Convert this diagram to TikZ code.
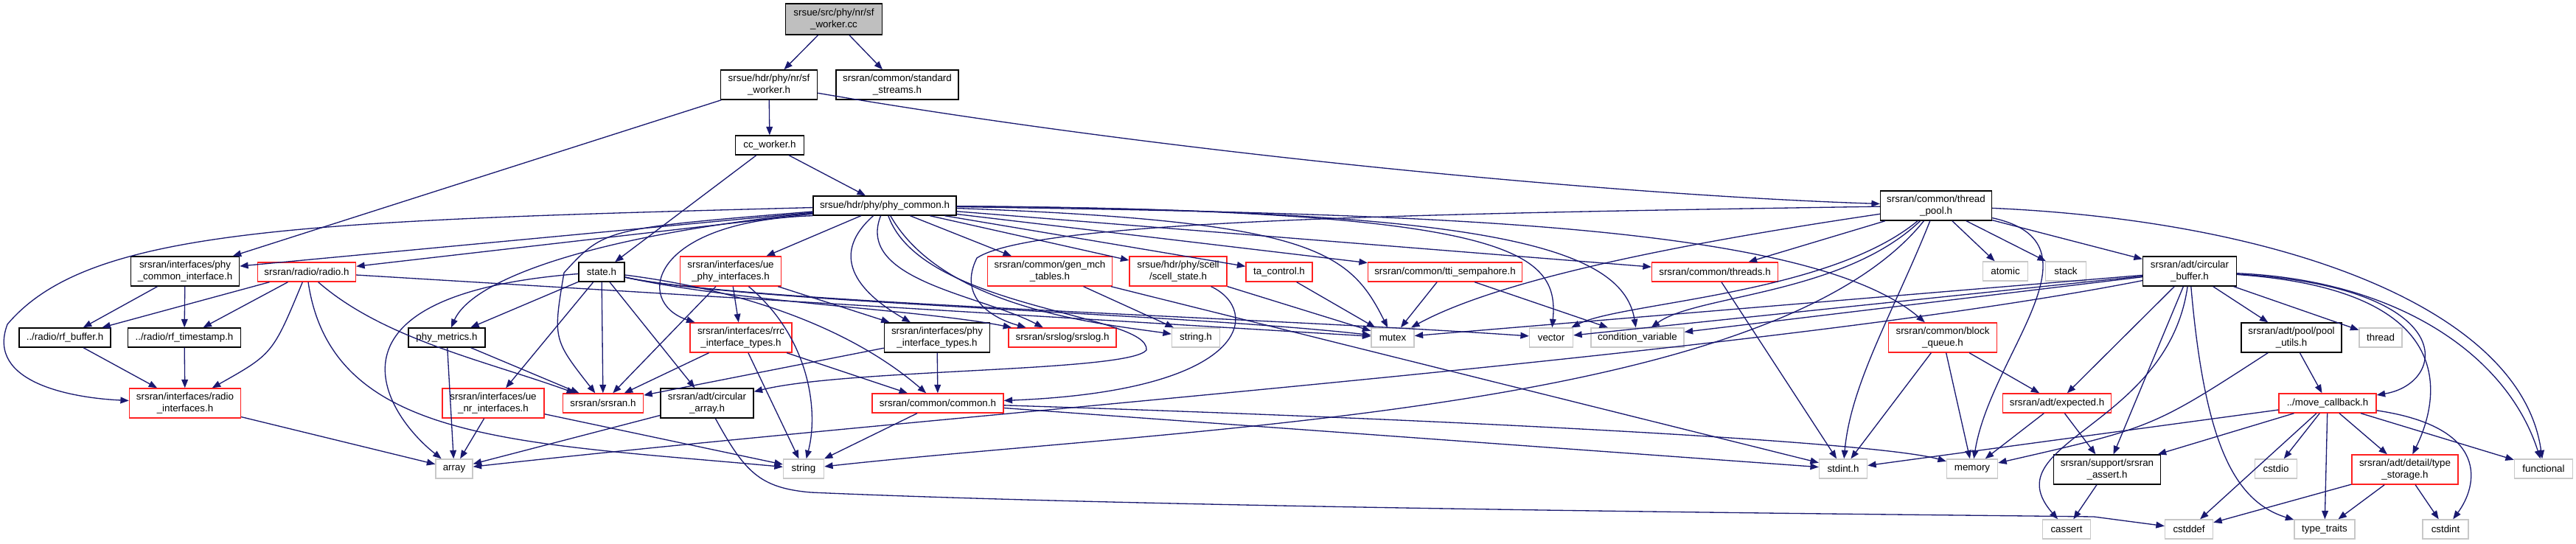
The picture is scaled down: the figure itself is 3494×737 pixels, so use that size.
\documentclass[tikz,border=0pt]{standalone}
\usepackage{fontspec}
\setmainfont{Liberation Sans}
\usepackage{tikz}
\usetikzlibrary{arrows.meta}
\definecolor{edgeblue}{HTML}{191970}
\definecolor{boxred}{HTML}{FF2020}
\definecolor{boxgray}{HTML}{C8C8C8}
\definecolor{rootgray}{HTML}{BFBFBF}
\tikzset{
  filebox/.style={draw=black, fill=white, shape=rectangle, line width=0.8pt, inner sep=1.5pt,
    align=center, font=\fontsize{7.6}{8.6}\selectfont, minimum height=0.52cm},
  twoline/.style={minimum height=0.8cm},
  redbox/.style={filebox, draw=boxred},
  sysbox/.style={filebox, draw=boxgray},
  rootbox/.style={filebox, fill=rootgray, minimum height=0.84cm},
  incl/.style={draw=edgeblue, line width=0.75pt, -{Triangle[length=6.5pt,width=5pt]}},
}

\begin{document}
\begin{tikzpicture}[x=0.02cm,y=-0.02cm]
\useasboundingbox (0,0) rectangle (3494,737);

% top of the graph
\draw node (root) at (1131,26) [rootbox, minimum width=2.62cm]{srsue/src/phy/nr/sf\\\_worker.cc};
\draw node (sfw) at (1043,115) [filebox, twoline, minimum width=2.62cm]{srsue/hdr/phy/nr/sf\\\_worker.h};
\draw node (stdstr) at (1217,115) [filebox, twoline, minimum width=3.32cm]{srsran/common/standard\\\_streams.h};
\draw node (ccw) at (1044,197) [filebox, minimum width=1.86cm]{cc\_worker.h};
\draw node (phyc) at (1200,279) [filebox, minimum width=3.88cm]{srsue/hdr/phy/phy\_common.h};
\draw node (tpool) at (2626,279) [filebox, twoline, minimum width=3.02cm]{srsran/common/thread\\\_pool.h};

% row below phy_common
\draw node (pci) at (251,368) [filebox, twoline, minimum width=2.94cm]{srsran/interfaces/phy\\\_common\_interface.h};
\draw node (radio) at (416,369) [redbox, minimum width=2.66cm]{srsran/radio/radio.h};
\draw node (state) at (816,369) [filebox, minimum width=1.24cm]{state.h};
\draw node (uephy) at (991,368) [redbox, twoline, minimum width=2.74cm]{srsran/interfaces/ue\\\_phy\_interfaces.h};
\draw node (genmch) at (1424,368) [redbox, twoline, minimum width=3.38cm]{srsran/common/gen\_mch\\\_tables.h};
\draw node (scell) at (1598,368) [redbox, twoline, minimum width=2.64cm]{srsue/hdr/phy/scell\\/scell\_state.h};
\draw node (tactl) at (1735,369) [redbox, minimum width=1.8cm]{ta\_control.h};
\draw node (ttisem) at (1960,369) [redbox, minimum width=4.18cm]{srsran/common/tti\_sempahore.h};
\draw node (threads) at (2326,369) [redbox, minimum width=3.42cm]{srsran/common/threads.h};
\draw node (atomic) at (2720,368) [sysbox, minimum width=1.22cm]{atomic};
\draw node (stack) at (2802,368) [sysbox, minimum width=1.1cm]{stack};
\draw node (cbuf) at (2970,368) [filebox, twoline, minimum width=2.54cm]{srsran/adt/circular\\\_buffer.h};

% middle row
\draw node (rfbuf) at (88,458) [filebox, minimum width=2.48cm]{../radio/rf\_buffer.h};
\draw node (rfts) at (250,458) [filebox, minimum width=3.06cm]{../radio/rf\_timestamp.h};
\draw node (metrics) at (606,458) [filebox, minimum width=2.08cm]{phy\_metrics.h};
\draw node (rrc) at (1005,458) [redbox, twoline, minimum width=2.76cm]{srsran/interfaces/rrc\\\_interface\_types.h};
\draw node (phyt) at (1271,458) [filebox, twoline, minimum width=2.86cm]{srsran/interfaces/phy\\\_interface\_types.h};
\draw node (srslog) at (1441,458) [redbox, minimum width=2.92cm]{srsran/srslog/srslog.h};
\draw node (stringh) at (1622,458) [sysbox, minimum width=1.3cm]{string.h};
\draw node (mutex) at (1889,458) [sysbox, minimum width=1.16cm]{mutex};
\draw node (vector) at (2104,458) [sysbox, minimum width=1.18cm]{vector};
\draw node (condvar) at (2221,458) [sysbox, minimum width=2.52cm]{condition\_variable};
\draw node (bqueue) at (2635,458) [redbox, twoline, minimum width=2.94cm]{srsran/common/block\\\_queue.h};
\draw node (pool) at (3108,458) [filebox, twoline, minimum width=2.72cm]{srsran/adt/pool/pool\\\_utils.h};
\draw node (thread) at (3229,458) [sysbox, minimum width=1.16cm]{thread};

% lower row
\draw node (radioif) at (251,547) [redbox, twoline, minimum width=3.02cm]{srsran/interfaces/radio\\\_interfaces.h};
\draw node (uenr) at (669,547) [redbox, twoline, minimum width=2.76cm]{srsran/interfaces/ue\\\_nr\_interfaces.h};
\draw node (srsranh) at (818,547) [redbox, minimum width=2.18cm]{srsran/srsran.h};
\draw node (carray) at (959,547) [filebox, twoline, minimum width=2.52cm]{srsran/adt/circular\\\_array.h};
\draw node (common) at (1272,547) [redbox, minimum width=3.56cm]{srsran/common/common.h};
\draw node (expected) at (2790,547) [redbox, minimum width=2.94cm]{srsran/adt/expected.h};
\draw node (movecb) at (3157,547) [redbox, minimum width=2.64cm]{../move\_callback.h};

\draw node (array) at (616,636) [sysbox, minimum width=1.0cm]{array};
\draw node (string) at (1090,636) [sysbox, minimum width=1.1cm]{string};
\draw node (stdint) at (2500,636) [sysbox, minimum width=1.3cm]{stdint.h};
\draw node (memory) at (2675,636) [sysbox, minimum width=1.38cm]{memory};
\draw node (assert) at (2858,637) [filebox, twoline, minimum width=2.9cm]{srsran/support/srsran\\\_assert.h};
\draw node (cstdio) at (3087,636) [sysbox, minimum width=1.14cm]{cstdio};
\draw node (tstorage) at (3262,637) [redbox, twoline, minimum width=2.88cm]{srsran/adt/detail/type\\\_storage.h};
\draw node (functional) at (3450,636) [sysbox, minimum width=1.58cm]{functional};

\draw node (cassert) at (2803,718) [sysbox, minimum width=1.3cm]{cassert};
\draw node (cstddef) at (2969,718) [sysbox, minimum width=1.3cm]{cstddef};
\draw node (traits) at (3153,718) [sysbox, minimum width=1.64cm]{type\_traits};
\draw node (cstdint) at (3317,718) [sysbox, minimum width=1.24cm]{cstdint};

% straight includes
\foreach \a/\b in {root/sfw, root/stdstr, sfw/ccw, sfw/pci, ccw/phyc, ccw/state,
  phyc/pci, phyc/radio, phyc/uephy, phyc/genmch, phyc/scell, phyc/tactl, phyc/ttisem, phyc/threads,
  pci/rfbuf, pci/rfts, radio/rfbuf, radio/rfts, radio/mutex, rfbuf/radioif, rfts/radioif, radioif/array,
  state/metrics, state/uenr, state/srsranh, state/carray, metrics/array, metrics/srsranh,
  uenr/array, uenr/string, uephy/rrc, uephy/phyt, uephy/srsranh,
  rrc/srsranh, rrc/string, rrc/common, phyt/srsranh, phyt/common, carray/array,
  common/string, common/stdint, genmch/stringh, genmch/stdint,
  scell/mutex, tactl/mutex, ttisem/mutex, ttisem/condvar, threads/stdint,
  tpool/threads, tpool/atomic, tpool/stack, tpool/cbuf,
  cbuf/mutex, cbuf/vector, cbuf/condvar, cbuf/expected, cbuf/assert, cbuf/pool, cbuf/thread,
  bqueue/stdint, bqueue/memory, bqueue/expected, expected/memory, expected/assert, pool/movecb,
  movecb/stdint, movecb/assert, movecb/cstddef, movecb/cstdio, movecb/traits, movecb/tstorage, movecb/functional,
  tstorage/cstddef, tstorage/traits, tstorage/cstdint, assert/cassert}
  \draw[incl] (\a) -- (\b);

% bent includes
\draw[incl] (sfw) .. controls (1600,210) and (2200,265) .. (tpool);
\draw[incl] (phyc) .. controls (400,300) and (120,310) .. (10,440) .. controls (-20,520) and (100,540) .. (radioif);
\draw[incl] (phyc) .. controls (800,320) and (640,380) .. (metrics);
\draw[incl] (phyc) .. controls (820,310) .. (765,370) .. controls (750,460) .. (srsranh);
\draw[incl] (phyc.south west) .. controls (880,300) and (860,410) .. (rrc);
\draw[incl] (phyc) .. controls (1120,350) and (1170,400) .. (phyt);
\draw[incl] (phyc) .. controls (1160,380) and (1330,400) .. (srslog);
\draw[incl] (phyc) .. controls (1280,420) and (1500,440) .. (stringh);
\draw[incl] (phyc) .. controls (1250,420) and (1560,425) .. (1555,475) .. controls (1530,505) and (1150,500) .. (carray);
\draw[incl] (phyc) .. controls (1780,300) and (1830,340) .. (mutex);
\draw[incl] (phyc) .. controls (2050,285) and (2115,340) .. (vector);
\draw[incl] (phyc) .. controls (2000,285) and (2200,330) .. (condvar);
\draw[incl] (phyc) .. controls (1900,290) and (2450,300) .. (bqueue);
\draw[incl] (radio) .. controls (370,480) .. (radioif);
\draw[incl] (radio) .. controls (450,600) and (700,600) .. (string);
\draw[incl] (radio) .. controls (520,460) and (660,490) .. (srsranh);
\draw[incl] (state) .. controls (420,400) and (520,560) .. (array);
\draw[incl] (state) .. controls (1000,410) and (1250,420) .. (srslog);
\draw[incl] (state) .. controls (1000,410) and (1600,425) .. (mutex);
\draw[incl] (state) .. controls (1000,410) and (1700,430) .. (vector);
\draw[incl] (state) .. controls (1020,395) and (1160,450) .. (common);
\draw[incl] (uephy) .. controls (1100,460) and (1110,560) .. (string);
\draw[incl] (scell) .. controls (1710,420) and (1700,530) .. (common);
\draw[incl] (carray) .. controls (1010,640) and (1030,662) .. (1100,668) .. controls (1600,690) and (2600,698) .. (2840,701) -- (cstddef);
\draw[incl] (common) .. controls (2000,570) and (2550,600) .. (memory);
\draw[incl] (tpool) .. controls (1900,290) and (1400,300) .. (1325,350) .. controls (1300,400) and (1340,430) .. (srslog);
\draw[incl] (tpool) .. controls (2350,320) and (2050,370) .. (mutex);
\draw[incl] (tpool) .. controls (2480,400) and (2200,410) .. (vector);
\draw[incl] (tpool) .. controls (2500,400) and (2300,400) .. (condvar);
\draw[incl] (tpool) .. controls (2570,420) and (2510,520) .. (stdint);
\draw[incl] (tpool) .. controls (2400,560) and (1600,580) .. (string);
\draw[incl] (tpool) .. controls (2860,330) and (2700,480) .. (memory);
\draw[incl] (tpool) .. controls (3100,300) and (3420,420) .. (functional);
\draw[incl] (cbuf) .. controls (2400,480) and (1300,560) .. (array);
\draw[incl] (cbuf) .. controls (3340,390) and (3320,520) .. (movecb);
\draw[incl] (cbuf) .. controls (3360,395) and (3300,560) .. (tstorage);
\draw[incl] (cbuf) .. controls (3250,380) and (3400,480) .. (functional);
\draw[incl] (cbuf) .. controls (2990,600) and (3030,680) .. (traits);
\draw[incl] (cbuf) .. controls (2940,580) and (2700,600) .. (cassert);
\draw[incl] (pool) .. controls (2920,580) .. (memory);
\draw[incl] (movecb) .. controls (3380,580) and (3360,660) .. (cstdint);
\end{tikzpicture}
\end{document}
